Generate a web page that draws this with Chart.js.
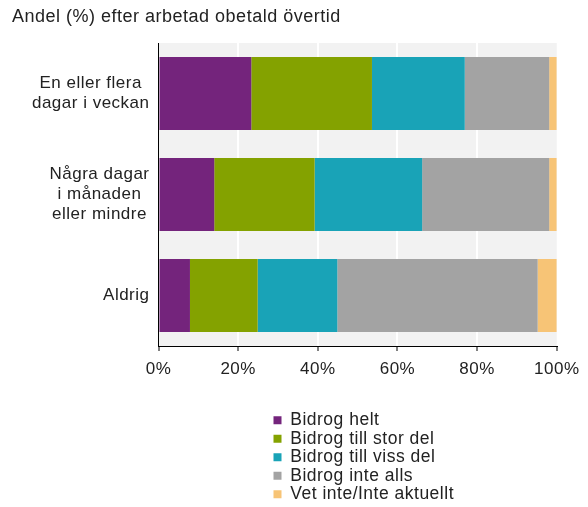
<!DOCTYPE html>
<html><head><meta charset="utf-8">
<script src="https://cdn.jsdelivr.net/npm/chart.js@4/dist/chart.umd.min.js"></script>
<style>html,body{margin:0;padding:0;background:#fff;}canvas{display:block}</style>
</head><body>
<canvas id="c" width="588" height="507"></canvas>
<script>
const titleText = "Andel (%) efter arbetad obetald övertid";
const categories = [["En eller flera", "dagar i veckan"], ["Några dagar", "i månaden", "eller mindre"], ["Aldrig"]];
const seriesNames = ["Bidrog helt", "Bidrog till stor del", "Bidrog till viss del", "Bidrog inte alls", "Vet inte/Inte aktuellt"];
const bidrogHelt = [23.3, 14.0, 7.9];
const bidrogStorDel = [30.3, 25.2, 17.0];
const bidrogVissDel = [23.3, 27.0, 20.0];
const bidrogInteAlls = [21.2, 31.9, 50.3];
const vetInte = [1.9, 1.9, 4.8];
const xTickValues = [0, 20, 40, 60, 80, 100];
const seriesColors = ["#74247C", "#84A200", "#19A3B7", "#A3A3A3", "#F7C476"];

const FONT = '"Liberation Sans", Arial, Helvetica, sans-serif';
const LS = '0.5px';
Chart.defaults.font.family = FONT;

const seriesValues = [bidrogHelt, bidrogStorDel, bidrogVissDel, bidrogInteAlls, vetInte];

const helperPlugin = {
  id: 'helper',
  beforeUpdate(c) { c.ctx.letterSpacing = LS; },
  beforeLayout(c) { c.ctx.letterSpacing = LS; },
  afterLayout(c) {
    const l = c.legend;
    if (!l) return;
    const w = l.width, h = l.height;
    l.left = 272.5; l.top = 410.5;
    l.right = l.left + w + 120; l.bottom = l.top + h + 60;
    l.width = l.right - l.left; l.height = l.bottom - l.top;
  },
  beforeDraw(c) {
    const ctx = c.ctx, a = c.chartArea;
    ctx.letterSpacing = LS;
    ctx.save();
    ctx.fillStyle = '#F2F2F2';
    ctx.fillRect(a.left, a.top, a.right - a.left, a.bottom - a.top);
    ctx.restore();
  },
  afterDraw(c) {
    const ctx = c.ctx, ys = c.scales.y;
    ctx.save();
    ctx.letterSpacing = LS;
    ctx.font = '17px ' + FONT;
    ctx.fillStyle = '#222';
    ctx.textAlign = 'center';
    ctx.textBaseline = 'middle';
    categories.forEach((lines, i) => {
      const yc = ys.getPixelForValue(i);
      const w = Math.max(...lines.map(t => ctx.measureText(t).width));
      const cx = ys.right - 9 - w / 2;
      lines.forEach((t, k) => ctx.fillText(t, cx, yc + (k - (lines.length - 1) / 2) * 20));
    });
    ctx.restore();
  }
};

new Chart(document.getElementById('c'), {
  type: 'bar',
  data: {
    labels: categories,
    datasets: seriesNames.map((name, i) => ({
      label: name,
      data: seriesValues[i],
      backgroundColor: seriesColors[i],
      borderWidth: 0,
      barPercentage: 0.723,
      categoryPercentage: 1.0
    }))
  },
  options: {
    indexAxis: 'y',
    responsive: false,
    devicePixelRatio: 1,
    animation: false,
    layout: { padding: { left: 12, right: 31, top: 0, bottom: 0 } },
    scales: {
      x: {
        stacked: true,
        min: 0, max: 100,
        afterBuildTicks(s) { s.ticks = xTickValues.map(v => ({ value: v })); },
        afterFit(s) { s.height = 161; },
        grid: {
          color: ctx => (ctx.tick && (ctx.tick.value === 0 || ctx.tick.value === 100)) ? 'rgba(0,0,0,0)' : '#FFFFFF',
          lineWidth: 2,
          tickColor: '#000',
          tickLength: 5,
          tickWidth: 1,
          drawTicks: true
        },
        border: { display: true, color: '#000', width: 1 },
        ticks: {
          color: '#222',
          font: { size: 17 },
          padding: 8.5,
          maxRotation: 0,
          autoSkip: false,
          callback: v => v + '%'
        }
      },
      y: {
        stacked: true,
        afterFit(s) { s.width = 146.5; },
        grid: { display: false },
        border: { display: true, color: '#000', width: 1 },
        ticks: { display: false }
      }
    },
    plugins: {
      title: {
        display: true,
        text: titleText,
        align: 'start',
        color: '#222',
        font: { size: 18, weight: 'normal' },
        padding: { top: 6.2, bottom: 15.2 }
      },
      legend: {
        position: 'chartArea',
        align: 'start',
        fullSize: false,
        labels: {
          boxWidth: 8,
          boxHeight: 8,
          padding: 1,
          color: '#222',
          font: { size: 17.5 }
        }
      },
      tooltip: { enabled: false }
    }
  },
  plugins: [helperPlugin]
});
</script>
</body></html>
